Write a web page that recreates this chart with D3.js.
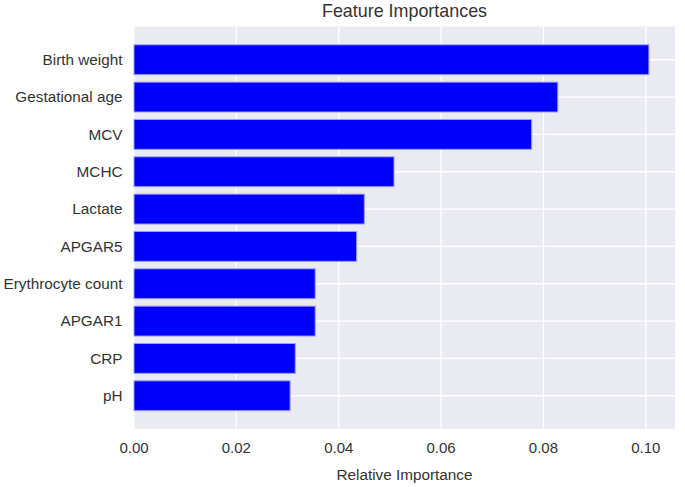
<!DOCTYPE html>
<html>
<head>
<meta charset="utf-8">
<script src="https://cdn.jsdelivr.net/npm/d3@7"></script>
<style>
  html, body { margin: 0; padding: 0; background: #fff; }
  svg { display: block; font-family: "Liberation Sans", Arial, sans-serif; }
</style>
</head>
<body>
<svg id="chart" width="685" height="487"></svg>
<script>
// Data (top to bottom as drawn)
const features = ["Birth weight", "Gestational age", "MCV", "MCHC", "Lactate", "APGAR5", "Erythrocyte count", "APGAR1", "CRP", "pH"];
const importances = [0.1006, 0.0828, 0.0777, 0.0508, 0.0450, 0.0435, 0.0354, 0.0354, 0.0315, 0.0305];
const xTicks = [0.00, 0.02, 0.04, 0.06, 0.08, 0.10];
const titleText = "Feature Importances";
const xLabelText = "Relative Importance";

const svg = d3.select("#chart");
const plot = { left: 134, right: 675, top: 26.5, bottom: 429 };

const x = d3.scaleLinear().domain([0, 0.1057]).range([plot.left, plot.right]);
const n = features.length;
// index 0 at bottom (matplotlib barh style), margin 0.05 of range
const y = d3.scaleLinear().domain([-0.89, n - 1 + 0.89]).range([plot.bottom, plot.top]);
const idx = d => n - 1 - features.indexOf(d);
const barH = (y(0) - y(0.8));

// background
svg.append("rect")
  .attr("x", plot.left).attr("y", plot.top)
  .attr("width", plot.right - plot.left).attr("height", plot.bottom - plot.top)
  .attr("fill", "#EAEAF2");

// vertical grid
svg.append("g").selectAll("line").data(xTicks).join("line")
  .attr("x1", d => x(d)).attr("x2", d => x(d))
  .attr("y1", plot.top).attr("y2", plot.bottom)
  .attr("stroke", "#fff").attr("stroke-width", 1.3);

// horizontal grid
svg.append("g").selectAll("line").data(features).join("line")
  .attr("x1", plot.left).attr("x2", plot.right)
  .attr("y1", d => y(idx(d))).attr("y2", d => y(idx(d)))
  .attr("stroke", "#fff").attr("stroke-width", 1.3);

// bars
svg.append("g").selectAll("rect").data(features).join("rect")
  .attr("x", x(0))
  .attr("y", d => y(idx(d)) - barH / 2)
  .attr("width", (d, i) => x(importances[i]) - x(0))
  .attr("height", barH)
  .attr("fill", "#0000FF")
  .attr("stroke", "#9c9cff")
  .attr("stroke-width", 1);

// y labels
svg.append("g").selectAll("text").data(features).join("text")
  .attr("x", plot.left - 11.5)
  .attr("y", d => y(idx(d)))
  .attr("dy", "0.35em")
  .attr("text-anchor", "end")
  .attr("font-size", "15.3px")
  .attr("fill", "#333")
  .text(d => d);

// x tick labels
svg.append("g").selectAll("text").data(xTicks).join("text")
  .attr("x", d => x(d))
  .attr("y", 452.5)
  .attr("text-anchor", "middle")
  .attr("font-size", "15px")
  .attr("fill", "#333")
  .text(d => d3.format(".2f")(d));

// x axis label
svg.append("text")
  .attr("x", (plot.left + plot.right) / 2)
  .attr("y", 479.5)
  .attr("text-anchor", "middle")
  .attr("font-size", "15.3px")
  .attr("fill", "#333")
  .text(xLabelText);

// title
svg.append("text")
  .attr("x", (plot.left + plot.right) / 2)
  .attr("y", 17)
  .attr("text-anchor", "middle")
  .attr("font-size", "17.9px")
  .attr("fill", "#333")
  .text(titleText);
</script>
</body>
</html>
